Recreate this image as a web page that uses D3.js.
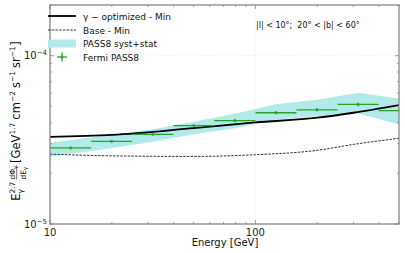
<!DOCTYPE html>
<html><head><meta charset="utf-8">
<script src="https://cdn.jsdelivr.net/npm/d3@7"></script>
<style>body{margin:0;background:#fff;} svg{display:block;font-family:"DejaVu Sans",sans-serif;} text{white-space:pre;}</style>
</head><body>
<svg id="c" width="405" height="253"></svg>
<script>
// ---- data ----
const binEdges = [10, 15.85, 25.12, 39.81, 63.10, 100, 158.5, 251.2, 398.1, 631.0];
const binCenters = [12.59, 19.95, 31.62, 50.12, 79.43, 125.9, 199.5, 316.2, 501.2];
const fermiVals = [2.83e-5, 3.10e-5, 3.41e-5, 3.84e-5, 4.11e-5, 4.58e-5, 4.77e-5, 5.13e-5, 4.71e-5];
const fermiErr = [0.6e-6, 0.6e-6, 0.7e-6, 0.8e-6, 0.9e-6, 1.0e-6, 1.1e-6, 1.2e-6, 1.3e-6];
const bandE = [10, 12.59, 19.95, 31.62, 50.12, 79.43, 125.9, 199.5, 316.2, 501.2];
const bandUpper = [3.04e-5, 3.15e-5, 3.39e-5, 3.66e-5, 4.05e-5, 4.52e-5, 5.14e-5, 5.48e-5, 6.03e-5, 5.56e-5];
const bandLower = [2.51e-5, 2.61e-5, 2.82e-5, 3.08e-5, 3.41e-5, 3.71e-5, 4.17e-5, 4.37e-5, 4.53e-5, 3.90e-5];
const optE = [10, 20, 50, 100, 200, 300, 500];
const optVals = [3.29e-5, 3.38e-5, 3.71e-5, 4.01e-5, 4.28e-5, 4.58e-5, 5.09e-5];
const baseE = [10, 20, 50, 100, 200, 300, 500];
const baseVals = [2.60e-5, 2.54e-5, 2.52e-5, 2.58e-5, 2.74e-5, 2.97e-5, 3.23e-5];
const xTickVals = [10, 100];
const xTickLabels = ["10", "100"];
const yTickVals = [1e-5, 1e-4];
const yTickExps = ["−5", "−4"];
const legendLabels = ["γ − optimized - Min", "Base - Min", "PASS8 syst+stat", "Fermi PASS8"];
const annotation = "|l| < 10°;  20° < |b| < 60°";

// ---- layout ----
const svg = d3.select("#c");
const L = 50, T = 5, R = 399, B = 224;
const x = d3.scaleLog().domain([10, 500]).range([L, R]);
const y = d3.scaleLog().domain([1e-5, 2e-4]).range([B, T]);
const green = "#2ca02c", frame = "#888";

svg.append("clipPath").attr("id", "pc").append("rect")
  .attr("x", L).attr("y", T).attr("width", R - L).attr("height", B - T);

// grid
const g = svg.append("g");
g.selectAll(".gx").data(xTickVals).join("line")
  .attr("x1", d => x(d)).attr("x2", d => x(d)).attr("y1", T).attr("y2", B)
  .attr("stroke", "#ddd").attr("stroke-width", 0.6).attr("stroke-dasharray", "1,1.5");
g.selectAll(".gy").data(yTickVals).join("line")
  .attr("y1", d => y(d)).attr("y2", d => y(d)).attr("x1", L).attr("x2", R)
  .attr("stroke", "#ddd").attr("stroke-width", 0.6).attr("stroke-dasharray", "1,1.5");

const plot = svg.append("g").attr("clip-path", "url(#pc)");
const area = d3.area().x((d, i) => x(bandE[i])).y0((d, i) => y(bandLower[i])).y1((d, i) => y(bandUpper[i]));
plot.append("path").datum(bandE).attr("d", area).attr("fill", "rgb(178,234,234)");
const line = d3.line().x(d => x(d[0])).y(d => y(d[1])).curve(d3.curveMonotoneX);
plot.append("path").datum(baseE.map((e, i) => [e, baseVals[i]])).attr("d", line)
  .attr("fill", "none").attr("stroke", "#333").attr("stroke-width", 1).attr("stroke-dasharray", "2.5,1.2");
plot.append("path").datum(optE.map((e, i) => [e, optVals[i]])).attr("d", line)
  .attr("fill", "none").attr("stroke", "#000").attr("stroke-width", 1.8);
const pts = plot.append("g");
fermiVals.forEach((v, i) => {
  pts.append("line").attr("x1", x(binEdges[i])).attr("x2", x(binEdges[i + 1]))
    .attr("y1", y(v)).attr("y2", y(v)).attr("stroke", green).attr("stroke-width", 1.3);
  pts.append("line").attr("x1", x(binCenters[i])).attr("x2", x(binCenters[i]))
    .attr("y1", y(v - fermiErr[i])).attr("y2", y(v + fermiErr[i])).attr("stroke", green).attr("stroke-width", 1.3);
  pts.append("rect").attr("x", x(binCenters[i]) - 1.2).attr("y", y(v) - 1.2)
    .attr("width", 2.4).attr("height", 2.4).attr("fill", green);
});

// ticks
const tk = svg.append("g").attr("stroke", frame).attr("stroke-width", 0.8);
const xMinor = [];
for (let d = 10; d <= 100; d *= 10) for (let k = 1; k < 10; k++) { const v = d * k; if (v >= 10 && v <= 500) xMinor.push(v); }
xMinor.forEach(v => {
  const len = xTickVals.includes(v) ? 4 : 2;
  tk.append("line").attr("x1", x(v)).attr("x2", x(v)).attr("y1", B).attr("y2", B - len);
  tk.append("line").attr("x1", x(v)).attr("x2", x(v)).attr("y1", T).attr("y2", T + len);
});
const yMinor = [];
for (let d = 1e-5; d <= 1e-4; d *= 10) for (let k = 1; k < 10; k++) { const v = d * k; if (v >= 1e-5 && v <= 2e-4) yMinor.push(v); }
yMinor.forEach(v => {
  const major = yTickVals.some(t => Math.abs(t - v) / t < 1e-6);
  const len = major ? 4 : 2;
  tk.append("line").attr("y1", y(v)).attr("y2", y(v)).attr("x1", L).attr("x2", L + len);
  tk.append("line").attr("y1", y(v)).attr("y2", y(v)).attr("x1", R).attr("x2", R - len);
});

svg.append("rect").attr("x", L).attr("y", T).attr("width", R - L).attr("height", B - T)
  .attr("fill", "none").attr("stroke", frame).attr("stroke-width", 1.3);

// tick labels
svg.selectAll(".xl").data(xTickVals).join("text")
  .attr("x", d => x(d)).attr("y", B + 12).attr("text-anchor", "middle")
  .attr("font-size", 10).attr("fill", "#222").text((d, i) => xTickLabels[i]);
yTickVals.forEach((v, i) => {
  const t = svg.append("text").attr("x", L - 3).attr("y", y(v) + 3.5).attr("text-anchor", "end")
    .attr("font-size", 10).attr("fill", "#222");
  t.append("tspan").text("10");
  t.append("tspan").attr("dy", -4).attr("font-size", 7).text(yTickExps[i]);
});

svg.append("text").attr("x", 225).attr("y", 246).attr("text-anchor", "middle")
  .attr("font-size", 10).attr("fill", "#111").text("Energy [GeV]");

// y label: sequential layout of pieces
const yl = svg.append("g");
const inner = yl.append("g");
let cx = 0;
const F = 11.5, S = 7.5;
function piece(txt, size, dy) {
  const t = inner.append("text").attr("x", cx).attr("y", dy).attr("font-size", size).attr("fill", "#111").text(txt);
  const w = t.node().getComputedTextLength();
  return { t, w };
}
let p = piece("E", F, 0); cx += p.w;
p = piece("2.7", S, -5); const supW = p.w;
piece("γ", S, 3);
cx += supW + 2;
const fs = 7.5, fsub = 5.5;
const n1 = inner.append("text").attr("x", cx).attr("y", -5).attr("font-size", fs).attr("fill", "#111").text("dΦ");
const n1w = n1.node().getComputedTextLength();
inner.append("text").attr("x", cx + n1w).attr("y", -3.5).attr("font-size", fsub).attr("fill", "#111").text("γ");
const d1 = inner.append("text").attr("x", cx).attr("y", 5.5).attr("font-size", fs).attr("fill", "#111").text("dE");
const d1w = d1.node().getComputedTextLength();
inner.append("text").attr("x", cx + d1w).attr("y", 7).attr("font-size", fsub).attr("fill", "#111").text("γ");
const fw = Math.max(n1w, d1w) + 3.5;
inner.append("line").attr("x1", cx).attr("x2", cx + fw).attr("y1", -3.3).attr("y2", -3.3).attr("stroke", "#111").attr("stroke-width", 0.6);
cx += fw + 2.5;
[["[GeV", F, 0, 0], ["1.7", S, -5, 3], ["cm", F, 0, 0], ["−2", S, -5, 3], ["s", F, 0, 0], ["−1", S, -5, 3], ["sr", F, 0, 0], ["−1", S, -5, 0.5], ["]", F, 0, 0]]
  .forEach(([t, s, dy, gap]) => { const q = piece(t, s, dy); cx += q.w + gap; });
const totalW = cx;
yl.attr("transform", `translate(20,${121 + totalW / 2}) rotate(-90)`);

svg.append("text").attr("x", 256).attr("y", 28).attr("font-size", 8).attr("fill", "#111").text(annotation);

// legend
const lg = svg.append("g");
const rows = [16, 30, 43.5, 57];
lg.append("line").attr("x1", 48).attr("x2", 76).attr("y1", rows[0]).attr("y2", rows[0]).attr("stroke", "#000").attr("stroke-width", 1.8);
lg.append("line").attr("x1", 48).attr("x2", 76).attr("y1", rows[1]).attr("y2", rows[1]).attr("stroke", "#333").attr("stroke-width", 1).attr("stroke-dasharray", "2.5,1.2");
lg.append("rect").attr("x", 48).attr("y", rows[2] - 4).attr("width", 28).attr("height", 8).attr("fill", "rgb(178,234,234)");
lg.append("line").attr("x1", 62).attr("x2", 62).attr("y1", rows[3] - 4.5).attr("y2", rows[3] + 4.5).attr("stroke", green).attr("stroke-width", 1.3);
lg.append("line").attr("x1", 57).attr("x2", 67).attr("y1", rows[3]).attr("y2", rows[3]).attr("stroke", green).attr("stroke-width", 1.3);
lg.append("rect").attr("x", 60.8).attr("y", rows[3] - 1.2).attr("width", 2.4).attr("height", 2.4).attr("fill", green);
lg.selectAll(".lt").data(legendLabels).join("text")
  .attr("x", 83).attr("y", (d, i) => rows[i] + 3.5).attr("font-size", 9).attr("fill", "#111").text(d => d);
</script>
</body></html>
